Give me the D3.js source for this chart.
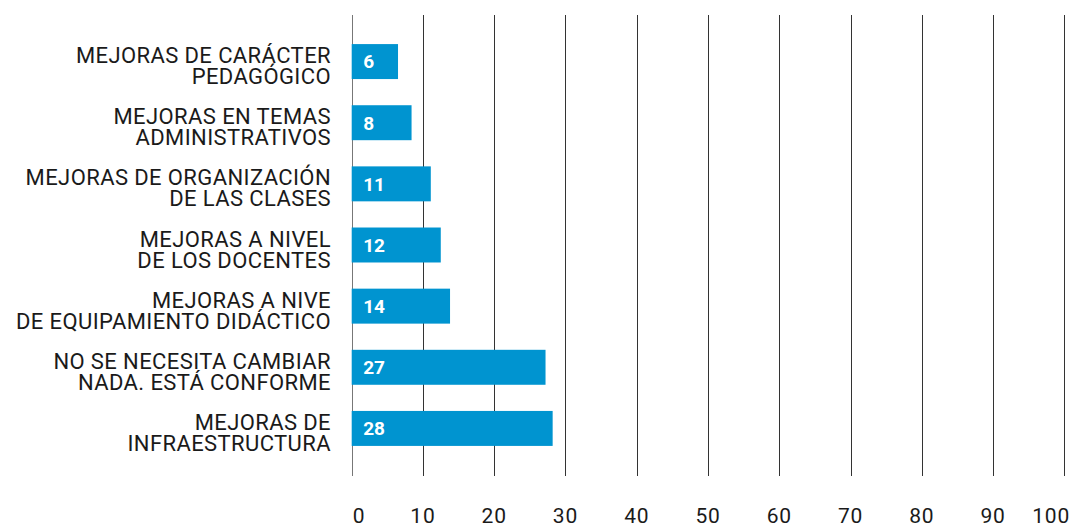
<!DOCTYPE html>
<html>
<head>
<meta charset="utf-8">
<script src="https://cdn.jsdelivr.net/npm/d3@7/dist/d3.min.js"></script>
<style>
  html, body { margin: 0; padding: 0; background: #fff; }
  svg { display: block; font-family: Roboto, "Noto Sans", sans-serif; }
</style>
</head>
<body>
<svg id="chart" width="1069" height="525"></svg>
<script>
const categories = [
  ["MEJORAS DE CARÁCTER", "PEDAGÓGICO"],
  ["MEJORAS EN TEMAS", "ADMINISTRATIVOS"],
  ["MEJORAS DE ORGANIZACIÓN", "DE LAS CLASES"],
  ["MEJORAS A NIVEL", "DE LOS DOCENTES"],
  ["MEJORAS A NIVE", "DE EQUIPAMIENTO DIDÁCTICO"],
  ["NO SE NECESITA CAMBIAR", "NADA. ESTÁ CONFORME"],
  ["MEJORAS DE", "INFRAESTRUCTURA"]
];
const values = [6.5, 8.4, 11.1, 12.5, 13.8, 27.2, 28.2];
const valueLabels = ["6", "8", "11", "12", "14", "27", "28"];
const ticks = [0, 10, 20, 30, 40, 50, 60, 70, 80, 90, 100];

const W = 1069, H = 525;
const svg = d3.select("#chart");

const x = d3.scaleLinear().domain([0, 100]).range([351.7, 1064.3]);
const keys = categories.map((c, i) => i);
const y = d3.scaleBand().domain(keys).range([31, 459]).paddingInner(0.428).paddingOuter(0.214);

// grid lines
svg.append("g").selectAll("line").data(ticks).join("line")
  .attr("x1", d => Math.round(x(d)) + 0.5).attr("x2", d => Math.round(x(d)) + 0.5)
  .attr("y1", 15).attr("y2", 476)
  .attr("stroke", d => d === 0 ? "#777" : "#333").attr("stroke-width", 1);

// bars
svg.append("g").selectAll("rect").data(values).join("rect")
  .attr("x", x(0))
  .attr("y", (d, i) => y(i))
  .attr("width", d => x(d) - x(0))
  .attr("height", y.bandwidth())
  .attr("fill", "#0094d0");

// value labels
svg.append("g").selectAll("text").data(valueLabels).join("text")
  .attr("x", x(0) + 11.5)
  .attr("y", (d, i) => y(i) + y.bandwidth() / 2)
  .attr("dy", "0.36em")
  .attr("fill", "#fff")
  .attr("font-weight", "bold")
  .attr("font-size", 19)
  .text(d => d);

// category labels
const cat = svg.append("g").selectAll("text").data(categories).join("text")
  .attr("text-anchor", "end")
  .attr("font-size", 22)
  .attr("letter-spacing", 0.4)
  .attr("fill", "#1a1a1a");
cat.each(function(lines, i) {
  const t = d3.select(this);
  const cy = y(i) + y.bandwidth() / 2;
  lines.forEach((ln, j) => {
    t.append("tspan").attr("x", 331).attr("y", cy + 1.5 + j * 21).text(ln);
  });
});

// tick labels
svg.append("g").selectAll("text").data(ticks).join("text")
  .attr("x", (d, i) => i === 0 ? x(d) + 1 : (i === ticks.length - 1 ? W + 1 : x(d)))
  .attr("text-anchor", (d, i) => i === 0 ? "start" : (i === ticks.length - 1 ? "end" : "middle"))
  .attr("y", 523)
  .attr("font-size", 21)
  .attr("letter-spacing", 0.8)
  .attr("fill", "#1a1a1a")
  .text(d => d);
</script>
</body>
</html>
